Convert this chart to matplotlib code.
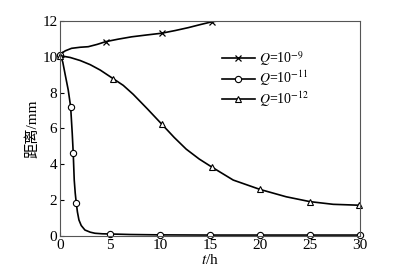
import matplotlib
matplotlib.use("Agg")
import matplotlib.pyplot as plt
from matplotlib.lines import Line2D

plt.rcParams['font.family'] = ['Liberation Serif', 'Noto Sans CJK SC', 'DejaVu Sans']
plt.rcParams['mathtext.fontset'] = 'stix'

# Q=1e-9 curve (x markers)
t9 = [0, 0.5, 1.13, 2.0, 2.8, 3.7, 4.54, 5.8, 7.14, 8.6, 10.14, 11.5, 12.8, 14.0, 15.2, 16.5]
d9 = [10.13, 10.32, 10.46, 10.52, 10.55, 10.68, 10.83, 10.97, 11.1, 11.2, 11.3, 11.45, 11.61, 11.78, 11.94, 12.04]
m9_t = [0, 4.54, 10.14, 15.2]
m9_d = [10.13, 10.83, 11.3, 11.94]

# Q=1e-11 curve (circle markers)
t11 = [0, 0.25, 0.47, 0.8, 1.04, 1.2, 1.3, 1.4, 1.5, 1.6, 1.72, 1.87, 2.1, 2.47, 3.0, 3.47, 4.2, 4.97, 7, 10, 15, 20, 25, 30]
d11 = [10.09, 9.7, 9.07, 8.14, 7.21, 5.73, 4.62, 3.13, 2.4, 1.87, 1.35, 0.91, 0.6, 0.35, 0.23, 0.17, 0.14, 0.13, 0.1, 0.08, 0.07, 0.07, 0.07, 0.07]
m11_t = [0, 1.04, 1.3, 1.6, 4.97, 10, 15, 20, 25, 30]
m11_d = [10.09, 7.21, 4.62, 1.87, 0.13, 0.08, 0.07, 0.07, 0.07, 0.07]

# Q=1e-12 curve (triangle markers)
t12 = [0, 1, 2, 3, 4, 5.3, 6.3, 7.3, 8.7, 10.14, 11.4, 12.6, 13.9, 15.2, 17.3, 19.97, 22.6, 24.97, 27.3, 29.9]
d12 = [10.05, 9.95, 9.78, 9.55, 9.25, 8.77, 8.4, 7.9, 7.1, 6.25, 5.5, 4.85, 4.3, 3.84, 3.13, 2.61, 2.2, 1.93, 1.78, 1.73]
m12_t = [0, 5.3, 10.14, 15.2, 19.97, 24.97, 29.9]
m12_d = [10.05, 8.77, 6.25, 3.84, 2.61, 1.93, 1.73]

labels = [r'$Q$=10$^{-9}$', r'$Q$=10$^{-11}$', r'$Q$=10$^{-12}$']

fig = plt.figure(figsize=(4.07, 2.79), dpi=100)
ax = fig.add_axes([0.148, 0.153, 0.737, 0.773])

lw = 1.2
ax.plot(t9, d9, color='black', lw=lw)
ax.plot(m9_t, m9_d, ls='none', marker='x', ms=4, mew=0.9, color='black')
ax.plot(t11, d11, color='black', lw=lw)
ax.plot(m11_t, m11_d, ls='none', marker='o', ms=4.5, mfc='white', mec='black', mew=0.8, clip_on=False)
ax.plot(t12, d12, color='black', lw=lw)
ax.plot(m12_t, m12_d, ls='none', marker='^', ms=4.5, mfc='white', mec='black', mew=0.8, clip_on=False)

handles = [Line2D([], [], color='black', lw=lw, marker='x', ms=4, mew=0.9),
           Line2D([], [], color='black', lw=lw, marker='o', ms=4.5, mfc='white', mew=0.8),
           Line2D([], [], color='black', lw=lw, marker='^', ms=4.5, mfc='white', mew=0.8)]
ax.legend(handles, labels, loc='upper left', bbox_to_anchor=(0.51, 0.905), frameon=False,
          fontsize=10, handlelength=2.4, handletextpad=0.3, labelspacing=0.05, borderpad=0.1)

ax.set_xlim(0, 30)
ax.set_ylim(0, 12)
ax.set_xticks([0, 5, 10, 15, 20, 25, 30])
ax.set_yticks([0, 2, 4, 6, 8, 10, 12])
ax.tick_params(direction='in', length=3, width=0.8, labelsize=11, pad=2, top=False, right=False)
for s in ax.spines.values():
    s.set_linewidth(0.8)
    s.set_color('#555555')

ax.set_xlabel(r'$t$/h', fontsize=11, labelpad=1)
ax.set_ylabel('距离/mm', fontsize=11, labelpad=2)

fig.savefig('out.png', dpi=100)
